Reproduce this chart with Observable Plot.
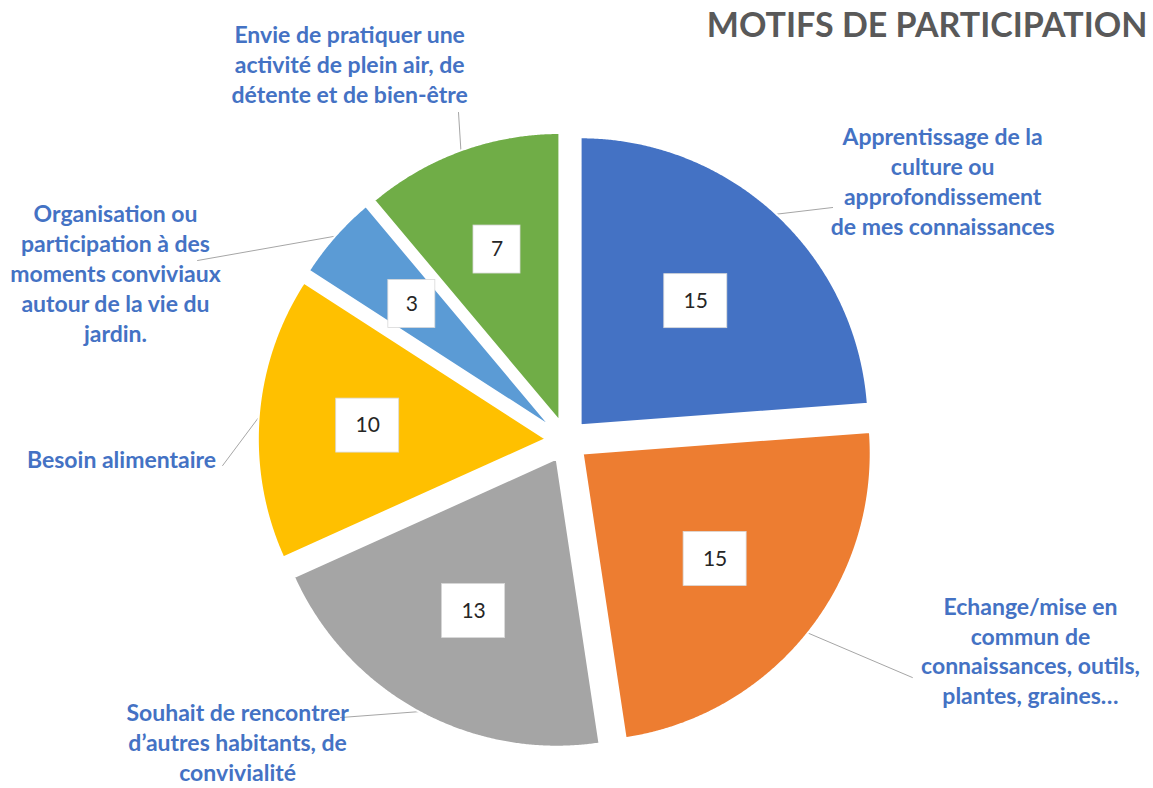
<!DOCTYPE html>
<html><head><meta charset="utf-8">
<script src="https://cdn.jsdelivr.net/npm/d3@7"></script>
<script src="https://cdn.jsdelivr.net/npm/@observablehq/plot@0.6"></script>
<style>body{margin:0;background:#fff;font-family:Lato,sans-serif}</style>
</head><body><div id="chart"></div>
<script>
// ---- data ----
const categories = [
  "Apprentissage de la\nculture ou\napprofondissement\nde mes connaissances",
  "Echange/mise en\ncommun de\nconnaissances, outils,\nplantes, graines…",
  "Souhait de rencontrer\nd’autres habitants, de\nconvivialité",
  "Besoin alimentaire",
  "Organisation ou\nparticipation à des\nmoments conviviaux\nautour de la vie du\njardin.",
  "Envie de pratiquer une\nactivité de plein air, de\ndétente et de bien-être"
];
const values = [15, 15, 13, 10, 3, 7];
const colors = ["#4472C4", "#ED7D31", "#A5A5A5", "#FFC000", "#5B9BD5", "#70AD47"];
const title = "MOTIFS DE PARTICIPATION";

// ---- layout (pie radius = 1 data unit) ----
const W = 1153, H = 788, R = 288, CX = 566, CY = 440;
const EXPLODE = 0.072;
// category label centres and leader-line ends, relative to pie centre, in radius units
const labelAt = [[1.306, 0.903], [1.611, -0.727], [-1.142, -1.045], [-1.545, -0.0625], [-1.566, 0.583], [-0.753, 1.309]];
const leaderEnd = [[0.924, 0.809], [1.201, -0.823], [-0.785, -0.962], [-1.194, -0.087], [-1.281, 0.625], [-0.375, 1.139]];

const arcs = d3.pie().sort(null).value(d => d)(values);
const slicePts = [], boxes = [], leaders = [], cats = [];
arcs.forEach((p, i) => {
  const mid = (p.startAngle + p.endAngle) / 2, th = p.endAngle - p.startAngle;
  const ox = EXPLODE * Math.sin(mid), oy = EXPLODE * Math.cos(mid);
  slicePts.push({k: i, x: ox, y: oy});
  const n = Math.max(4, Math.ceil(th / 0.005));
  for (let j = 0; j <= n; j++) {
    const a = p.startAngle + th * j / n;
    slicePts.push({k: i, x: ox + Math.sin(a), y: oy + Math.cos(a)});
  }
  const rc = 0.97 * 4 * Math.sin(th / 2) / (3 * th); // near the centroid
  const lx = ox + rc * Math.sin(mid), ly = oy + rc * Math.cos(mid);
  const digits = String(values[i]).length;
  const bw = (31 + 16 * digits) / R / 2, bh = (digits > 1 ? 54 : 48) / R / 2;
  boxes.push({k: i, v: values[i], x: lx, y: ly, x1: lx - bw, x2: lx + bw, y1: ly - bh, y2: ly + bh});
  leaders.push({k: i, x: ox + Math.sin(mid), y: oy + Math.cos(mid)});
  leaders.push({k: i, x: leaderEnd[i][0], y: leaderEnd[i][1]});
  cats.push({k: i, text: categories[i], x: labelAt[i][0], y: labelAt[i][1]});
});

const chart = Plot.plot({
  width: W, height: H,
  marginTop: 0, marginRight: 0, marginBottom: 0, marginLeft: 0,
  x: {domain: [-CX / R, (W - CX) / R], range: [0, W], axis: null},
  y: {domain: [-(H - CY) / R, CY / R], range: [H, 0], axis: null},
  color: {type: "ordinal", domain: d3.range(values.length), range: colors},
  style: {fontFamily: "Lato, sans-serif", background: "#fff"},
  marks: [
    Plot.line(leaders, {x: "x", y: "y", z: "k", stroke: "#A6A6A6", strokeWidth: 1}),
    Plot.line(slicePts, {x: "x", y: "y", z: "k", fill: "k", stroke: "white", strokeWidth: 2, curve: "linear-closed"}),
    Plot.rect(boxes, {x1: "x1", x2: "x2", y1: "y1", y2: "y2", fill: "white", stroke: "#d9d9d9", strokeWidth: 0.8}),
    Plot.text(boxes, {x: "x", y: "y", text: d => String(d.v), fontSize: 21, fill: "#262626"}),
    Plot.text(cats, {x: "x", y: "y", text: "text", fontSize: 23, fontWeight: "bold", lineHeight: 1.3, fill: "#4472C4", textAnchor: "middle", lineAnchor: "middle"}),
    Plot.text([title], {frameAnchor: "top-right", dx: -6, dy: 12, lineAnchor: "top", fontSize: 34, fontWeight: "bold", fill: "#595959"})
  ]
});
document.getElementById("chart").append(chart);
</script>
</body></html>
